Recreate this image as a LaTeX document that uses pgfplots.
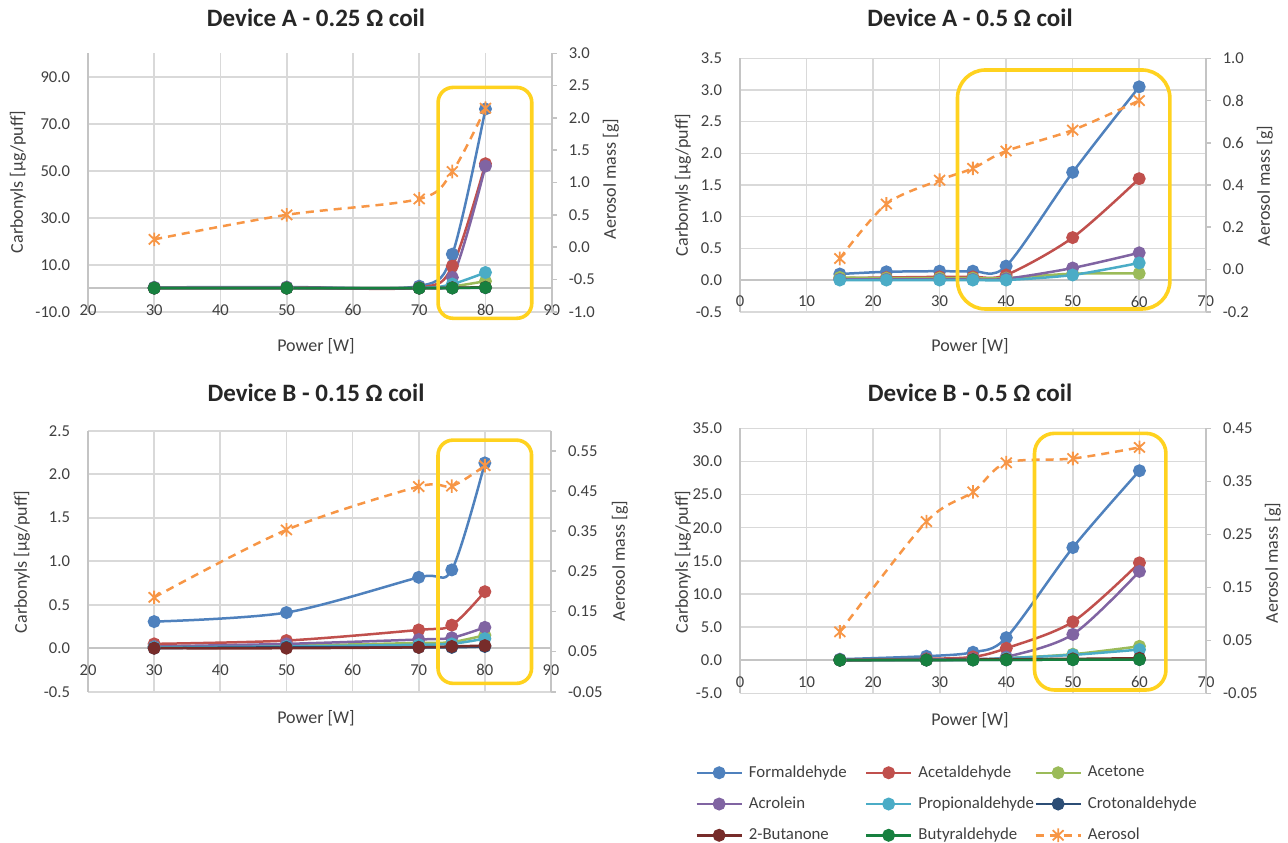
\documentclass[border=0pt]{standalone}
\usepackage{fontspec}
\setmainfont{Carlito}
\usepackage{pgfplots}
\pgfplotsset{compat=1.18}
\definecolor{cF}{HTML}{4F81BD}
\definecolor{cA}{HTML}{C0504D}
\definecolor{cAc}{HTML}{9BBB59}
\definecolor{cAr}{HTML}{8064A2}
\definecolor{cP}{HTML}{4BACC6}
\definecolor{cC}{HTML}{2C4D75}
\definecolor{cB}{HTML}{772C2A}
\definecolor{cBu}{HTML}{17803F}
\definecolor{cAe}{HTML}{F79646}
\definecolor{cY}{HTML}{FFD21F}
\definecolor{gridc}{HTML}{D9D9D9}
\definecolor{axc}{HTML}{C4C4C4}
\definecolor{txt}{HTML}{404040}
\definecolor{ttl}{HTML}{262626}

\pgfdeclareplotmark{xstar}{%
  \pgfpathmoveto{\pgfqpoint{0pt}{\pgfplotmarksize}}%
  \pgfpathlineto{\pgfqpoint{0pt}{-\pgfplotmarksize}}%
  \pgfpathmoveto{\pgfqpoint{-0.8\pgfplotmarksize}{0.75\pgfplotmarksize}}%
  \pgfpathlineto{\pgfqpoint{0.8\pgfplotmarksize}{-0.75\pgfplotmarksize}}%
  \pgfpathmoveto{\pgfqpoint{-0.8\pgfplotmarksize}{-0.75\pgfplotmarksize}}%
  \pgfpathlineto{\pgfqpoint{0.8\pgfplotmarksize}{0.75\pgfplotmarksize}}%
  \pgfusepathqstroke}

\tikzset{ybox/.style={cY, line width=1.8pt, rounded corners=#1}}
\pgfplotsset{
  ser/.style={color=#1, line width=1.25pt, mark=*, mark size=2.6pt,
    mark options={solid,fill=#1,draw=#1}, smooth, tension=0.5},
  aer/.style={color=cAe, line width=1.25pt, dash pattern=on 4pt off 3pt,
    mark=xstar, mark size=3.4pt, mark options={solid,line width=0.9pt}, smooth, tension=0.5},
  leftax/.style={scale only axis, clip=false, axis x line*=middle, axis y line*=left,
    axis line style={axc,line width=0.9pt}, grid=major, grid style={gridc,line width=0.8pt},
    major tick length=0pt, tick label style={txt,font=\fontsize{8.3}{10}\selectfont},
    xticklabel style={anchor=north,yshift=-4.5pt}, yticklabel style={anchor=east,xshift=-5.5pt},
    hide obscured x ticks=false, hide obscured y ticks=false},
  rightax/.style={scale only axis, clip=false, axis x line=none, axis y line*=right,
    axis line style={axc,line width=0.9pt}, major tick length=2.5pt, tick align=outside,
    ytick style={axc,line width=0.8pt}, tick label style={txt,font=\fontsize{8.3}{10}\selectfont},
    yticklabel style={anchor=west,xshift=2.5pt}},
}

\begin{document}
\begin{tikzpicture}
\useasboundingbox (0,0) rectangle (644pt,-421pt);

% ---------- Panel 1 : Device A 0.25 ----------
\begin{axis}[leftax, at={(44pt,-155.85pt)}, anchor=south west, width=231.85pt, height=129.2pt,
  xmin=20, xmax=90, ymin=-10, ymax=100,
  xtick={20,30,40,50,60,70,80,90}, xticklabels={20,30,40,50,60,70,80,90},
  ytick={-10,10,30,50,70,90}, yticklabels={-10.0,10.0,30.0,50.0,70.0,90.0}]
\addplot[ser=cF]  coordinates {(30,0.4) (50,0.5) (70,0.9) (75,14.5) (80,76.3)};
\addplot[ser=cA]  coordinates {(30,0.2) (50,0.3) (70,0.3) (75,9.4) (80,53)};
\addplot[ser=cAc] coordinates {(30,0.1) (50,0.1) (70,0.1) (75,0.8) (80,3.0)};
\addplot[ser=cAr] coordinates {(30,0.1) (50,0.2) (70,0.2) (75,4.6) (80,52)};
\addplot[ser=cP]  coordinates {(30,0.1) (50,0.1) (70,0.1) (75,1.8) (80,6.7)};
\addplot[ser=cC]  coordinates {(30,0.05) (50,0.05) (70,0.05) (75,0.1) (80,0.2)};
\addplot[ser=cB]  coordinates {(30,0.05) (50,0.05) (70,0.05) (75,0.2) (80,0.4)};
\addplot[ser=cBu] coordinates {(30,0.05) (50,0.05) (70,0.05) (75,0.1) (80,0.3)};
\end{axis}
\begin{axis}[rightax, at={(44pt,-155.85pt)}, anchor=south west, width=231.85pt, height=129.2pt,
  xmin=20, xmax=90, ymin=-1, ymax=3,
  ytick={-1,-0.5,0,0.5,1,1.5,2,2.5,3}, yticklabels={-1.0,-0.5,0.0,0.5,1.0,1.5,2.0,2.5,3.0}]
\addplot[aer] coordinates {(30,0.12) (50,0.50) (70,0.745) (75,1.17) (80,2.15)};
\draw[ybox=7.5pt] (rel axis cs:0.755,-0.0255) rectangle (rel axis cs:0.957,0.868);
\end{axis}

% ---------- Panel 2 : Device A 0.5 ----------
\begin{axis}[leftax, at={(370pt,-155.85pt)}, anchor=south west, width=232.85pt, height=126.7pt,
  xmin=0, xmax=70, ymin=-0.5, ymax=3.5,
  xtick={0,10,20,30,40,50,60,70}, xticklabels={0,10,20,30,40,50,60,70},
  ytick={-0.5,0,0.5,1,1.5,2,2.5,3,3.5}, yticklabels={-0.5,0.0,0.5,1.0,1.5,2.0,2.5,3.0,3.5}]
\addplot[ser=cF]  coordinates {(15,0.095) (22,0.13) (30,0.14) (35,0.14) (40,0.22) (50,1.70) (60,3.05)};
\addplot[ser=cA]  coordinates {(15,0.03) (22,0.04) (30,0.05) (35,0.05) (40,0.08) (50,0.67) (60,1.60)};
\addplot[ser=cAc] coordinates {(15,0.04) (22,0.03) (30,0.03) (35,0.03) (40,0.03) (50,0.10) (60,0.105)};
\addplot[ser=cAr] coordinates {(15,0.01) (22,0.01) (30,0.01) (35,0.01) (40,0.02) (50,0.19) (60,0.43)};
\addplot[ser=cP]  coordinates {(15,0.0) (22,0.0) (30,0.0) (35,0.0) (40,0.0) (50,0.08) (60,0.27)};
\end{axis}
\begin{axis}[rightax, at={(370pt,-155.85pt)}, anchor=south west, width=232.85pt, height=126.7pt,
  xmin=0, xmax=70, ymin=-0.2, ymax=1.0,
  ytick={-0.2,0,0.2,0.4,0.6,0.8,1.0}, yticklabels={-0.2,0.0,0.2,0.4,0.6,0.8,1.0}]
\addplot[aer] coordinates {(15,0.052) (22,0.31) (30,0.423) (35,0.479) (40,0.561) (50,0.66) (60,0.80)};
\draw[ybox=14pt] (rel axis cs:0.467,0.0107) rectangle (rel axis cs:0.923,0.954);
\end{axis}

% ---------- Panel 3 : Device B 0.15 ----------
\begin{axis}[leftax, at={(44pt,-345.85pt)}, anchor=south west, width=231.5pt, height=130.5pt,
  xmin=20, xmax=90, ymin=-0.5, ymax=2.5,
  xtick={20,30,40,50,60,70,80,90}, xticklabels={20,30,40,50,60,70,80,90},
  ytick={-0.5,0,0.5,1,1.5,2,2.5}, yticklabels={-0.5,0.0,0.5,1.0,1.5,2.0,2.5}]
\addplot[ser=cF]  coordinates {(30,0.306) (50,0.41) (70,0.815) (75,0.90) (80,2.13)};
\addplot[ser=cA]  coordinates {(30,0.05) (50,0.088) (70,0.21) (75,0.265) (80,0.65)};
\addplot[ser=cAc] coordinates {(30,0.02) (50,0.03) (70,0.06) (75,0.07) (80,0.15)};
\addplot[ser=cAr] coordinates {(30,0.02) (50,0.05) (70,0.10) (75,0.12) (80,0.24)};
\addplot[ser=cP]  coordinates {(30,0.01) (50,0.02) (70,0.04) (75,0.05) (80,0.11)};
\addplot[ser=cC]  coordinates {(30,0.0) (50,0.01) (70,0.01) (75,0.01) (80,0.02)};
\addplot[ser=cB]  coordinates {(30,0.0) (50,0.0) (70,0.01) (75,0.02) (80,0.03)};
\end{axis}
\begin{axis}[rightax, at={(44pt,-345.85pt)}, anchor=south west, width=231.5pt, height=130.5pt,
  xmin=20, xmax=90, ymin=-0.05, ymax=0.6,
  ytick={-0.05,0.05,0.15,0.25,0.35,0.45,0.55}, yticklabels={-0.05,0.05,0.15,0.25,0.35,0.45,0.55}]
\addplot[aer] coordinates {(30,0.185) (50,0.353) (70,0.461) (75,0.462) (80,0.513)};
\draw[ybox=7.5pt] (rel axis cs:0.756,0.032) rectangle (rel axis cs:0.958,0.964);
\end{axis}

% ---------- Panel 4 : Device B 0.5 ----------
\begin{axis}[leftax, at={(370pt,-346.65pt)}, anchor=south west, width=233pt, height=132.5pt,
  xmin=0, xmax=70, ymin=-5, ymax=35,
  xtick={0,10,20,30,40,50,60,70}, xticklabels={0,10,20,30,40,50,60,70},
  ytick={-5,0,5,10,15,20,25,30,35}, yticklabels={-5.0,0.0,5.0,10.0,15.0,20.0,25.0,30.0,35.0}]
\addplot[ser=cF]  coordinates {(15,0.15) (28,0.6) (35,1.2) (40,3.4) (50,17.0) (60,28.6)};
\addplot[ser=cA]  coordinates {(15,0.05) (28,0.2) (35,0.5) (40,1.8) (50,5.8) (60,14.7)};
\addplot[ser=cAc] coordinates {(15,0.02) (28,0.05) (35,0.1) (40,0.3) (50,0.9) (60,2.1)};
\addplot[ser=cAr] coordinates {(15,0.02) (28,0.1) (35,0.2) (40,0.5) (50,3.9) (60,13.4)};
\addplot[ser=cP]  coordinates {(15,0.02) (28,0.05) (35,0.1) (40,0.3) (50,0.8) (60,1.6)};
\addplot[ser=cC]  coordinates {(15,0.01) (28,0.02) (35,0.03) (40,0.05) (50,0.08) (60,0.1)};
\addplot[ser=cB]  coordinates {(15,0.02) (28,0.05) (35,0.1) (40,0.15) (50,0.2) (60,0.3)};
\addplot[ser=cBu] coordinates {(15,0.01) (28,0.02) (35,0.03) (40,0.05) (50,0.08) (60,0.1)};
\end{axis}
\begin{axis}[rightax, at={(370pt,-346.65pt)}, anchor=south west, width=233pt, height=132.5pt,
  xmin=0, xmax=70, ymin=-0.05, ymax=0.45,
  ytick={-0.05,0.05,0.15,0.25,0.35,0.45}, yticklabels={-0.05,0.05,0.15,0.25,0.35,0.45}]
\addplot[aer] coordinates {(15,0.066) (28,0.274) (35,0.33) (40,0.385) (50,0.393) (60,0.414)};
\draw[ybox=10pt] (rel axis cs:0.632,0.0125) rectangle (rel axis cs:0.914,0.981);
\end{axis}

% ---------- Legend ----------
\begin{axis}[hide axis, scale only axis, width=1pt, height=1pt, xmin=0, xmax=1, ymin=0, ymax=1,
  at={(347.5pt,-381.5pt)}, anchor=north west,
  legend columns=3,
  legend image code/.code={\draw[mark repeat=2,mark phase=2,#1] plot coordinates {(0pt,0pt) (11.25pt,0pt) (22.5pt,0pt)};},
  legend style={at={(0,1)}, anchor=north west, draw=none, fill=none, inner sep=0pt,
    font=\fontsize{8.4}{10}\selectfont, text=txt, row sep=6.3pt,
    nodes={inner sep=1pt},
    /tikz/every odd column/.append style={column sep=2pt},
    /tikz/every even column/.append style={column sep=0pt}},
  legend cell align=left]
\addlegendimage{ser=cF}  \addlegendentry{\makebox[57pt][l]{Formaldehyde}}
\addlegendimage{ser=cA}  \addlegendentry{\makebox[57pt][l]{Acetaldehyde}}
\addlegendimage{ser=cAc} \addlegendentry{Acetone}
\addlegendimage{ser=cAr} \addlegendentry{\makebox[57pt][l]{Acrolein}}
\addlegendimage{ser=cP}  \addlegendentry{\makebox[57pt][l]{Propionaldehyde}}
\addlegendimage{ser=cC}  \addlegendentry{Crotonaldehyde}
\addlegendimage{ser=cB}  \addlegendentry{\makebox[57pt][l]{2-Butanone}}
\addlegendimage{ser=cBu} \addlegendentry{\makebox[57pt][l]{Butyraldehyde}}
\addlegendimage{aer}     \addlegendentry{Aerosol}
\end{axis}

% ---------- Titles and axis labels ----------
\begin{scope}[x=0.5pt,y=-0.5pt]
\tikzset{ttlf/.style={font=\bfseries\fontsize{12.5}{14}\selectfont, text=ttl},
         labf/.style={font=\fontsize{9}{11}\selectfont, text=txt}}
\node[ttlf] at (316,18) {Device A - 0.25 Ω coil};
\node[ttlf] at (970,18) {Device A - 0.5 Ω coil};
\node[ttlf] at (316,393) {Device B - 0.15 Ω coil};
\node[ttlf] at (970,393) {Device B - 0.5 Ω coil};
\node[labf] at (316,346) {Power [W]};
\node[labf] at (970,346) {Power [W]};
\node[labf] at (316,718) {Power [W]};
\node[labf] at (970,720) {Power [W]};
\node[labf,rotate=90] at (18,182) {Carbonyls [µg/puff]};
\node[labf,rotate=90] at (683,185) {Carbonyls [µg/puff]};
\node[labf,rotate=90] at (22,562) {Carbonyls [µg/puff]};
\node[labf,rotate=90] at (683,562) {Carbonyls [µg/puff]};
\node[labf,rotate=90] at (611,179) {Aerosol mass [g]};
\node[labf,rotate=90] at (1265,186) {Aerosol mass [g]};
\node[labf,rotate=90] at (620,561) {Aerosol mass [g]};
\node[labf,rotate=90] at (1273,563) {Aerosol mass [g]};
\end{scope}
\end{tikzpicture}
\end{document}
